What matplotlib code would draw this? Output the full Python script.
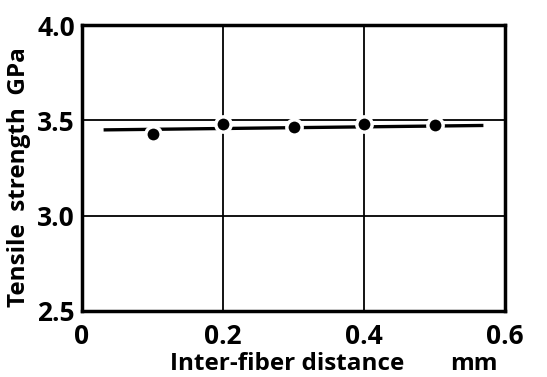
import matplotlib
matplotlib.use("Agg")
from matplotlib import pyplot as plt

# measured points
distance = [0.1, 0.2, 0.3, 0.4, 0.5]
strength = [3.43, 3.48, 3.465, 3.48, 3.475]

# fitted line ends
fit_x = [0.033, 0.567]
fit_y = [3.45, 3.473]

xticks = [0, 0.2, 0.4, 0.6]
xtick_labels = ["0", "0.2", "0.4", "0.6"]
yticks = [2.5, 3.0, 3.5, 4.0]
ytick_labels = ["2.5", "3.0", "3.5", "4.0"]

plt.rcParams['font.family'] = ['Open Sans', 'DejaVu Sans']
fig = plt.figure(figsize=(5.47, 3.77), dpi=100)
ax = fig.add_axes([82 / 547, 1 - 311 / 377, (505 - 82) / 547, (311 - 25) / 377])

ax.plot(fit_x, fit_y, color="black", lw=2.4, zorder=2)
ax.plot(distance, strength, "o", color="black", markersize=11,
        markeredgecolor="white", markeredgewidth=2.5, zorder=3)

ax.set_xlim(0, 0.6)
ax.set_ylim(2.5, 4.0)
ax.set_xticks(xticks)
ax.set_xticklabels(xtick_labels)
ax.set_yticks(yticks)
ax.set_yticklabels(ytick_labels)
ax.tick_params(axis="x", length=0, labelsize=19, pad=9)
ax.tick_params(axis="y", length=0, labelsize=19, pad=5)
for lab in ax.get_xticklabels() + ax.get_yticklabels():
    lab.set_fontweight("bold")
ax.grid(True, color="black", lw=1.3)
for s in ax.spines.values():
    s.set_linewidth(2.5)

ax.set_xlabel("Inter-fiber distance", fontsize=17.5, fontweight="bold")
ax.xaxis.set_label_coords(0.486, -0.145)
ax.text(0.927, -0.145, "mm", transform=ax.transAxes, fontsize=17.5,
        fontweight="bold", ha="center", va="top")
ax.set_ylabel("Tensile  strength  GPa", fontsize=17.5, fontweight="bold")
ax.yaxis.set_label_coords(-0.12, 0.467)

fig.savefig("out.png", dpi=100)
